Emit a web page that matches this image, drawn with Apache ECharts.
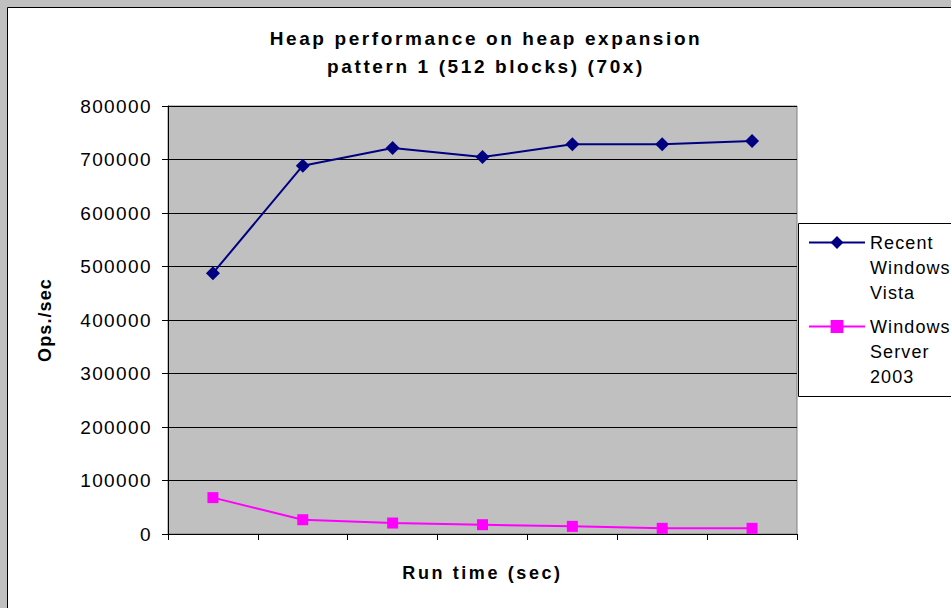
<!DOCTYPE html>
<html>
<head>
<meta charset="utf-8">
<script src="https://cdn.jsdelivr.net/npm/echarts@6/dist/echarts.min.js"></script>
<style>
    html, body { margin: 0; padding: 0; background: #c0c0c0; }
    #chart { width: 951px; height: 608px; }
    /* the old chart draws its text loosely spaced */
    #chart text { letter-spacing: 1.1px; }
    #chart text[style*=" 19px"] { letter-spacing: 1.4px; }
    #chart text[style*="bold"] { letter-spacing: 2.6px; }
</style>
</head>
<body>
<div id="chart"></div>
<script>
    // run time steps (no labels shown on the axis)
    var runSteps = ['1', '2', '3', '4', '5', '6', '7'];
    var vistaOps = [487500, 688500, 721500, 704500, 728500, 728500, 734500];
    var server2003Ops = [68000, 26700, 20500, 17400, 14300, 10600, 10600];
    var opsTicks = [0, 100000, 200000, 300000, 400000, 500000, 600000, 700000, 800000];

    var font = 'Liberation Sans, Arial, sans-serif';
    var chart = echarts.init(document.getElementById('chart'), null, { renderer: 'svg' });

    function legendText(name) {
        // wrap names like the legend box does; two blank lines first so the
        // marker sits next to the first line
        var lines = {
            'Recent Windows Vista': 'Recent\nWindows\nVista',
            'Windows Server 2003': 'Windows\nServer\n2003'
        };
        return '\n\n' + lines[name];
    }
    var legendTextStyle = {
        fontFamily: font,
        fontSize: 18,
        color: '#000',
        lineHeight: 25
    };

    chart.setOption({
        backgroundColor: '#c0c0c0',
        animation: false,
        graphic: [
            {
                type: 'rect', z: -10,
                shape: { x: 7.5, y: 7.5, width: 1000, height: 700 },
                style: { fill: '#fff', stroke: '#000', lineWidth: 1 }
            },
            {
                type: 'rect', z: 1,
                shape: { x: 798.5, y: 223.5, width: 200, height: 173 },
                style: { fill: '#fff', stroke: '#000', lineWidth: 1 }
            }
        ],
        title: {
            text: 'Heap performance on heap expansion\npattern 1 (512 blocks) (70x)',
            left: 486,
            textAlign: 'center',
            top: 24,
            padding: 0,
            textStyle: {
                fontFamily: font,
                fontSize: 19,
                fontWeight: 'bold',
                color: '#000',
                lineHeight: 28
            }
        },
        legend: [
            {
                data: ['Recent Windows Vista'],
                left: 808, top: 180, padding: 0, z: 5,
                itemWidth: 56, itemHeight: 16,
                formatter: legendText,
                textStyle: legendTextStyle
            },
            {
                data: ['Windows Server 2003'],
                left: 808, top: 264, padding: 0, z: 5,
                itemWidth: 56, itemHeight: 16,
                formatter: legendText,
                textStyle: legendTextStyle
            }
        ],
        grid: {
            left: 168,
            right: 154,
            top: 106,
            bottom: 74,
            show: true,
            backgroundColor: '#c0c0c0',
            borderColor: '#808080',
            borderWidth: 1
        },
        xAxis: {
            type: 'category',
            data: runSteps,
            name: 'Run time (sec)',
            nameLocation: 'middle',
            nameGap: 30,
            nameTextStyle: { fontFamily: font, fontSize: 18, fontWeight: 'bold', color: '#000' },
            axisLine: { lineStyle: { color: '#000', width: 1 } },
            axisTick: { show: true, length: 6, lineStyle: { color: '#000' } },
            axisLabel: { show: false },
            splitLine: { show: false }
        },
        yAxis: {
            type: 'value',
            min: opsTicks[0],
            max: opsTicks[opsTicks.length - 1],
            interval: opsTicks[1] - opsTicks[0],
            name: 'Ops./sec',
            nameLocation: 'middle',
            nameGap: 114,
            nameTextStyle: { fontFamily: font, fontSize: 18, fontWeight: 700, color: '#000' },
            axisLine: { show: true, lineStyle: { color: '#000', width: 1 } },
            axisTick: { show: true, length: 6, lineStyle: { color: '#000' } },
            axisLabel: {
                fontFamily: font, fontSize: 19, color: '#000', margin: 16,
                formatter: function (v) { return String(v); }
            },
            splitLine: { show: true, lineStyle: { color: '#000', width: 1 } }
        },
        series: [
            {
                name: 'Recent Windows Vista',
                type: 'line',
                data: vistaOps,
                symbol: 'diamond',
                symbolSize: 14,
                color: '#000080',
                lineStyle: { width: 2, color: '#000080' },
                itemStyle: { color: '#000080' }
            },
            {
                name: 'Windows Server 2003',
                type: 'line',
                data: server2003Ops,
                symbol: 'rect',
                symbolSize: 11,
                color: '#ff00ff',
                lineStyle: { width: 2, color: '#ff00ff' },
                itemStyle: { color: '#ff00ff' }
            }
        ]
    });
</script>
</body>
</html>
